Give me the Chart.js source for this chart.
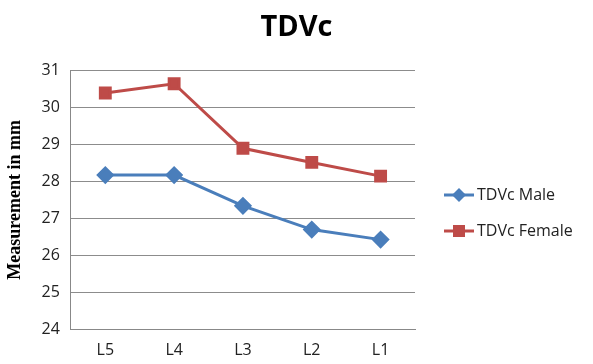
<!DOCTYPE html>
<html>
<head>
<meta charset="utf-8">
<script src="https://cdn.jsdelivr.net/npm/chart.js@4/dist/chart.umd.min.js"></script>
<style>
  html, body { margin: 0; padding: 0; background: #fff; }
  #wrap { width: 593px; height: 364px; }
</style>
</head>
<body>
<div id="wrap"><canvas id="c" width="593" height="364"></canvas></div>
<script>
const levels = ["L5", "L4", "L3", "L2", "L1"];
const maleValues = [28.17, 28.17, 27.34, 26.7, 26.43];
const femaleValues = [30.38, 30.63, 28.89, 28.51, 28.14];
const yTicks = [24, 25, 26, 27, 28, 29, 30, 31];
const chartTitle = "TDVc";

const BLUE = "#4a7ebb";
const RED = "#be4b48";

// title and legend drawn by hand so they sit where the office chart puts them
const sideLegend = {
  id: "sideLegend",
  afterDraw(chart) {
    const ctx = chart.ctx;
    ctx.save();
    ctx.fillStyle = "#000";
    ctx.font = "bold 29px 'Open Sans'";
    ctx.textAlign = "center";
    ctx.textBaseline = "middle";
    ctx.fillText(chartTitle, chart.width / 2, 28);
    ctx.restore();

    const x0 = chart.chartArea.right + 29;
    const rows = [195, 231];
    chart.data.datasets.forEach((ds, i) => {
      const y = rows[i];
      ctx.save();
      ctx.strokeStyle = ds.borderColor;
      ctx.lineWidth = 3;
      ctx.beginPath();
      ctx.moveTo(x0, y);
      ctx.lineTo(x0 + 30, y);
      ctx.stroke();
      ctx.fillStyle = ds.backgroundColor;
      ctx.beginPath();
      if (ds.pointStyle === "rectRot") {
        ctx.moveTo(x0 + 15, y - 7);
        ctx.lineTo(x0 + 22, y);
        ctx.lineTo(x0 + 15, y + 7);
        ctx.lineTo(x0 + 8, y);
        ctx.closePath();
      } else {
        ctx.rect(x0 + 9, y - 6, 12, 12);
      }
      ctx.fill();
      ctx.fillStyle = "#222";
      ctx.font = "16px 'Open Sans'";
      ctx.textBaseline = "middle";
      ctx.fillText(ds.label, x0 + 33, y);
      ctx.restore();
    });
  }
};

new Chart(document.getElementById("c"), {
  type: "line",
  data: {
    labels: levels,
    datasets: [
      {
        label: "TDVc Male",
        data: maleValues,
        borderColor: BLUE,
        backgroundColor: BLUE,
        borderWidth: 3,
        pointStyle: "rectRot",
        pointRadius: 7,
        pointHoverRadius: 7,
        tension: 0
      },
      {
        label: "TDVc Female",
        data: femaleValues,
        borderColor: RED,
        backgroundColor: RED,
        borderWidth: 3,
        pointStyle: "rect",
        pointRadius: 7,
        pointHoverRadius: 7,
        tension: 0
      }
    ]
  },
  options: {
    responsive: false,
    animation: false,
    layout: { padding: { left: 0, right: 178, top: 70, bottom: -7 } },
    plugins: {
      legend: { display: false },
      tooltip: { enabled: false },
      title: { display: false }
    },
    scales: {
      x: {
        offset: true,
        grid: { display: false, drawTicks: false },
        border: { color: "#888", width: 1 },
        ticks: { color: "#222", font: { family: "'Open Sans'", size: 16 }, padding: 11 }
      },
      y: {
        min: 24,
        max: 31,
        afterBuildTicks(axis) { axis.ticks = yTicks.map(v => ({ value: v })); },
        grid: { color: "#8c8c8c", drawTicks: false },
        border: { color: "#888", width: 1 },
        ticks: { color: "#222", font: { family: "'Open Sans'", size: 16 }, padding: 11 },
        title: {
          display: true,
          text: "Measurement in mm",
          color: "#000",
          font: { family: "'Liberation Serif'", size: 18, weight: "bold" },
          padding: { top: 5, bottom: 4 }
        }
      }
    }
  },
  plugins: [sideLegend]
});
</script>
</body>
</html>
